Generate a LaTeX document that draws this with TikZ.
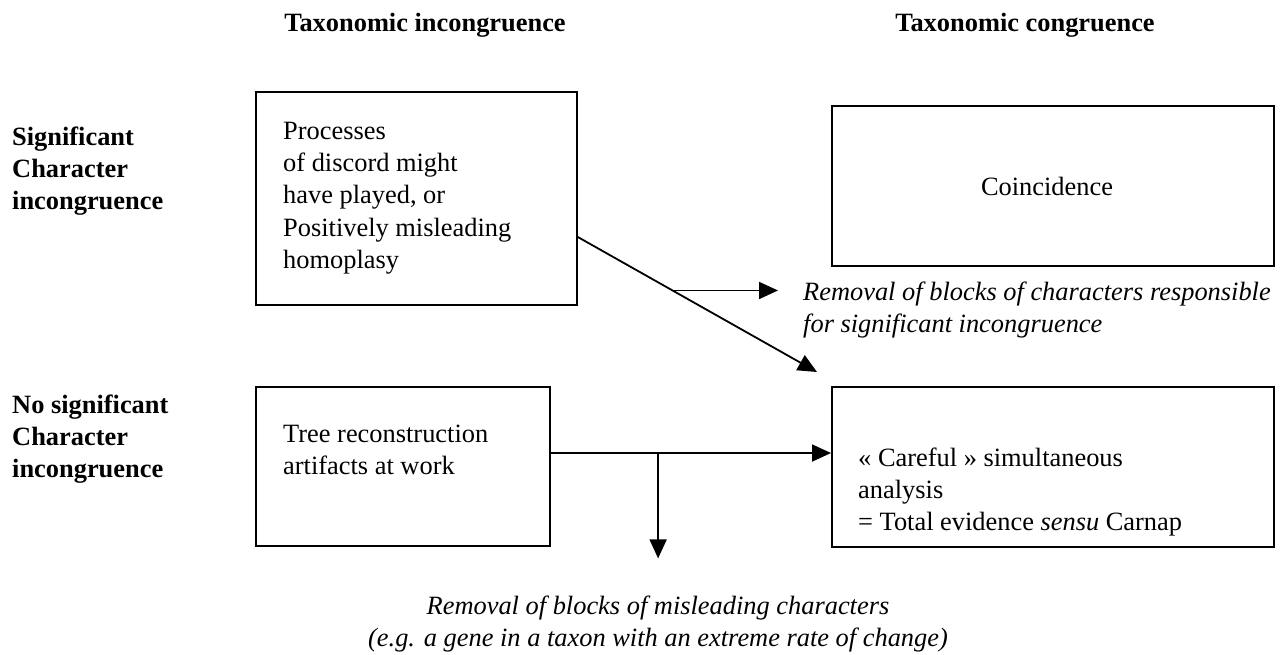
\documentclass[tikz,border=0pt]{standalone}
\usepackage{fontspec}
\setmainfont{Liberation Serif}
\usetikzlibrary{arrows.meta,calc}
\begin{document}
\begin{tikzpicture}[x=1pt,y=-1pt,
  every node/.style={font=\fontsize{26.4}{32.3}\selectfont, inner sep=0pt},
  box/.style={draw, line width=1.8pt, anchor=north west},
  txt/.style={anchor=north west, align=left},
  hdr/.style={anchor=base, font=\fontsize{26.4}{32.3}\selectfont\bfseries},
  lbl/.style={anchor=north west, align=left, font=\fontsize{26.4}{32.3}\selectfont\bfseries},
  note/.style={align=left, font=\fontsize{26.4}{32.3}\selectfont\itshape},
  conn/.style={line width=1.8pt, -{Triangle[length=19pt,width=17pt]}}
  ]
\useasboundingbox (0,0) rectangle (1287,654);
% headers
\node[hdr] (h1) at (425,31) {Taxonomic incongruence};
\node[hdr] (h2) at (1025,31) {Taxonomic congruence};
% row labels
\node[lbl] (l1) at (12,122.4) {\strut Significant\\Character\\incongruence};
\node[lbl] (l2) at (12,390.4) {\strut No significant\\Character\\incongruence};
% boxes
\node[box, minimum width=321pt, minimum height=213pt] (A) at (255,91) {};
\node[box, minimum width=442pt, minimum height=160pt] (C) at (831,105) {};
\node[box, minimum width=294pt, minimum height=159pt] (B) at (255,386) {};
\node[box, minimum width=442pt, minimum height=160pt] (D) at (831,386) {};
% box texts
\node[txt] (ta) at (283,116.4) {\strut Processes\\of discord might\\have played, or\\Positively misleading\\homoplasy};
\node[anchor=base] (tc) at (1047,195) {Coincidence};
\node[txt] (tb) at (283,419.4) {\strut Tree reconstruction\\artifacts at work};
\node[txt] (td) at (858,443.4) {\strut « Careful » simultaneous\\analysis\\= Total evidence \textit{sensu} Carnap};
% notes
\node[note, anchor=north west] (r1) at (803,277.4) {\strut Removal of blocks of characters responsible\\for significant incongruence};
\node[note, anchor=north, align=center] (r2) at (658,591.4) {\strut Removal of blocks of misleading characters\\(e.g. a gene in a taxon with an extreme rate of change)};
% connectors
\coordinate (s) at ($(A.north east)+(0,146)$);
\coordinate (d) at ($(D.north west)+(-14,-14)$);
\draw[conn] (s) -- (d);
\coordinate (m) at ($(s)!0.396!(d)$);
\draw[conn, shorten >=25pt] (m) -- (m -| r1.west);
\coordinate (bs) at ($(B.north east)+(0,67)$);
\draw[conn] (bs) -- (bs -| D.west);
\coordinate (n) at ($(bs)!0.383!(bs -| D.west)$);
\draw[conn, shorten >=33pt] (n) -- (n |- r2.north);
\end{tikzpicture}
\end{document}
